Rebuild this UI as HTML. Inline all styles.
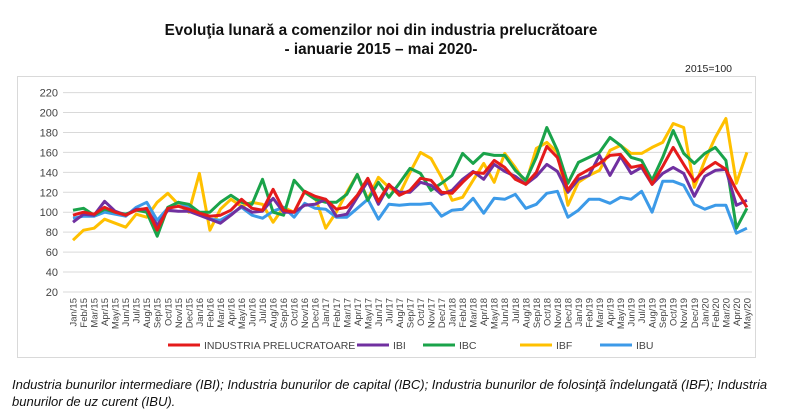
<!DOCTYPE html>
<html><head><meta charset="utf-8"><style>
body{margin:0;width:800px;height:410px;background:#fff;overflow:hidden;font-family:"Liberation Sans",sans-serif}
svg{position:absolute;left:0;top:0}
</style></head><body>
<svg width="800" height="410" xmlns="http://www.w3.org/2000/svg">
<text x="381" y="35" text-anchor="middle" font-size="15.3" font-weight="bold" fill="#111">Evoluţia lunară a comenzilor noi din industria prelucrătoare</text>
<text x="381" y="54" text-anchor="middle" font-size="15.3" font-weight="bold" fill="#111">-  ianuarie 2015 – mai 2020-</text>
<text x="732" y="72" text-anchor="end" font-size="10.5" fill="#222">2015=100</text>
<rect x="17.5" y="76.5" width="738" height="281" fill="none" stroke="#d9d9d9"/>
<g id="g"></g>
</svg>
<div style="position:absolute;left:12px;top:376px;width:782px;font-size:13px;font-style:italic;line-height:17px;color:#111">Industria bunurilor intermediare (IBI); Industria bunurilor de capital (IBC); Industria bunurilor de folosinţă îndelungată (IBF); Industria bunurilor de uz curent (IBU).</div>
<script>
var g=document.getElementById('g'),h='';
function Y(v){return 292-(v-20)*0.997}
function X(i){return 73+i*10.53}
for(var v=20;v<=220;v+=20){var y=Y(v);h+='<line x1="63" x2="752" y1="'+y+'" y2="'+y+'" stroke="#d9d9d9"/>';h+='<text x="58" y="'+(y+4)+'" text-anchor="end" font-size="11" fill="#444">'+v+'</text>';}
var m=['Jan','Feb','Mar','Apr','May','Jun','Jul','Aug','Sep','Oct','Nov','Dec'];
for(var i=0;i<65;i++){var x=X(i);var lab=m[i%12]+'/'+(15+Math.floor(i/12));
h+='<text transform="translate('+(x+3.5)+',298) rotate(-90)" text-anchor="end" font-size="9.5" fill="#444">'+lab+'</text>';}
var D={
ibf:[72,82,84,93,89,85,98,95,110,119,108,100,139,82,103,113,106,110,108,90,105,100,121,115,84,100,120,138,113,135,125,118,140,160,154,135,112,115,132,149,130,159,145,129,164,170,160,107,130,137,142,162,167,159,159,165,170,189,185,125,152,175,194,129,160],
ibu:[94,96,96,100,98,96,105,110,92,104,110,105,100,93,92,98,105,97,94,101,105,95,109,104,103,95,95,104,113,93,108,107,108,108,109,96,102,103,114,99,114,113,118,104,108,119,121,95,102,113,113,109,115,113,121,100,131,131,127,108,103,107,107,79,84],
ibc:[102,104,97,103,100,98,102,100,76,105,110,108,100,100,110,117,110,108,133,100,97,132,120,113,110,110,118,138,112,130,115,129,144,139,122,129,137,159,149,159,157,157,142,132,155,185,162,129,150,155,160,175,167,155,152,132,155,182,159,149,159,165,152,84,104],
ibi:[90,98,97,111,101,97,103,103,87,102,101,101,97,93,89,97,106,100,101,114,100,100,107,108,113,96,98,115,131,108,127,120,120,130,127,118,122,133,141,133,148,141,136,128,136,148,141,120,133,137,157,137,156,139,145,128,139,145,139,116,136,142,143,107,112],
ind:[97,100,98,105,100,97,102,104,82,104,106,103,99,96,97,102,113,104,102,123,102,100,121,116,113,103,105,117,134,111,128,117,122,134,132,120,119,130,140,139,152,145,133,128,140,166,155,122,137,143,149,157,158,145,147,128,146,165,148,131,143,150,143,122,105]};
var C={ind:'#e41b1b',ibi:'#7030a0',ibc:'#1aa34a',ibf:'#ffc000',ibu:'#3c9ae8'};
['ibf','ibu','ibc','ibi','ind'].forEach(function(k){var p=D[k].slice(0,65).map(function(v,i){return X(i).toFixed(1)+','+Y(v).toFixed(1)}).join(' ');
h+='<polyline points="'+p+'" fill="none" stroke="'+C[k]+'" stroke-width="3" stroke-linejoin="round"/>';});
var L=[['ind',168,'INDUSTRIA PRELUCRATOARE'],['ibi',357,'IBI'],['ibc',423,'IBC'],['ibf',520,'IBF'],['ibu',600,'IBU']];
L.forEach(function(l){h+='<line x1="'+l[1]+'" x2="'+(l[1]+32)+'" y1="345" y2="345" stroke="'+C[l[0]]+'" stroke-width="3"/>';
h+='<text x="'+(l[1]+36)+'" y="349" font-size="10.5" fill="#444">'+l[2]+'</text>';});
g.innerHTML=h;
</script>
</body></html>
